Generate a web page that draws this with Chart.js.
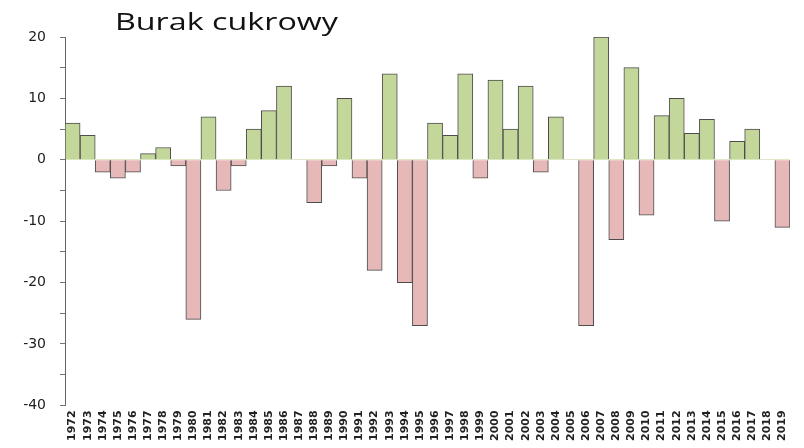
<!DOCTYPE html>
<html>
<head>
<meta charset="utf-8">
<script src="https://cdn.jsdelivr.net/npm/chart.js@4"></script>
<style>
  html, body { margin: 0; padding: 0; background: #fff; }
</style>
</head>
<body>
<canvas id="chart" width="804" height="448"></canvas>
<script>
// lata
const years = [];
for (let y = 1972; y <= 2019; y++) years.push(String(y));

// wartości
const values = [
  6, 4, -2, -3, -2, 1, 2, -1, -26, 7,
  -5, -1, 5, 8, 12, 0, -7, -1, 10, -3,
  -18, 14, -20, -27, 6, 4, 14, -3, 13, 5,
  12, -2, 7, 0, -27, 20, -13, 15, -9, 7.2,
  10, 4.3, 6.6, -10, 3, 5, 0, -11
];

const yTicks = [20, 10, 0, -10, -20, -30, -40];
const chartTitle = 'Burak cukrowy';

const green = '#c4d79b';
const pink = '#e6b8b7';

// tytuł rysowany ręcznie, bo w oryginale nachodzi na obszar wykresu
const titlePlugin = {
  id: 'titleText',
  afterDraw(chart) {
    const c = chart.ctx;
    c.save();
    c.font = '23px "Open Sans"';
    c.fillStyle = '#111';
    c.textBaseline = 'alphabetic';
    const w = c.measureText(chartTitle).width;
    c.translate(115, 30);
    c.scale(223 / w, 1); // oryginalny krój jest szerszy
    c.fillText(chartTitle, 0, 0);
    c.restore();
  }
};

const ctx = document.getElementById('chart').getContext('2d');
new Chart(ctx, {
  type: 'bar',
  data: {
    labels: years,
    datasets: [{
      data: values,
      backgroundColor: values.map(v => v >= 0 ? green : pink),
      borderColor: '#4d4d4d',
      borderWidth: 1,
      barPercentage: 1,
      categoryPercentage: 1
    }]
  },
  options: {
    responsive: false,
    animation: false,
    layout: { padding: { top: 37, left: 10, right: 14, bottom: 4 } },
    plugins: {
      legend: { display: false },
      tooltip: { enabled: false }
    },
    scales: {
      x: {
        grid: { display: false, tickLength: 2 },
        border: { display: false },
        ticks: {
          autoSkip: false,
          maxRotation: 90,
          minRotation: 90,
          padding: 3,
          color: '#222',
          font: { family: '"DejaVu Sans"', size: 11, weight: 'bold' }
        }
      },
      y: {
        min: -40,
        max: 20,
        afterFit: s => { s.width = 55; },
        border: { display: true, color: '#666', width: 1 },
        grid: {
          drawOnChartArea: true,
          color: c => c.tick && c.tick.value === 0 ? '#dfe8c8' : 'rgba(0,0,0,0)',
          tickColor: '#777',
          tickLength: 5
        },
        ticks: {
          stepSize: 5,
          padding: 14,
          color: '#222',
          font: { family: '"DejaVu Sans"', size: 14 },
          callback: v => yTicks.includes(v) ? String(v) : ''
        }
      }
    }
  },
  plugins: [titlePlugin]
});
</script>
</body>
</html>
